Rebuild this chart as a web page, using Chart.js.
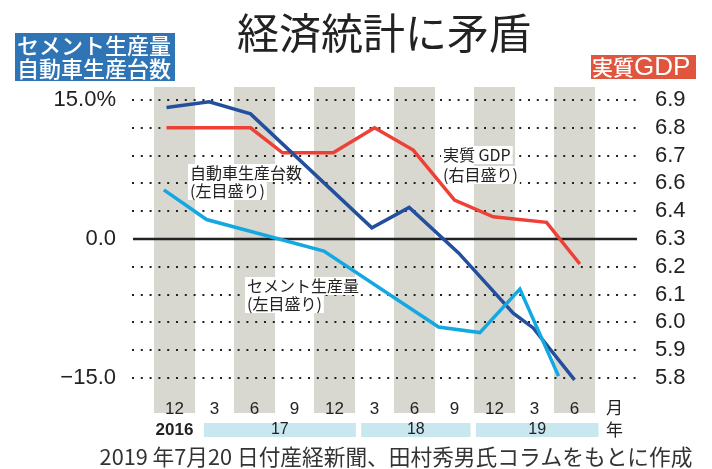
<!DOCTYPE html>
<html lang="ja">
<head>
<meta charset="utf-8">
<title>経済統計に矛盾</title>
<script src="https://cdn.jsdelivr.net/npm/chart.js@4/dist/chart.umd.min.js"></script>
<style>
  body { margin: 0; background: #fff; }
</style>
</head>
<body>
<canvas id="myChart" width="712" height="469"></canvas>
<script>
// x軸は 2016年12月 = 0 とした月数
const monthTicks = [0, 3, 6, 9, 12, 15, 18, 21, 24, 27, 30, 33];
const monthLabels = ['12', '3', '6', '9', '12', '3', '6', '9', '12', '3', '6', '月'];
const yearLabels = ['17', '18', '19'];

const leftTicks = [15, 0, -15];
const leftTickLabels = ['15.0%', '0.0', '−15.0'];
const gdpTicks = [5.8, 5.9, 6.0, 6.1, 6.2, 6.3, 6.4, 6.6, 6.7, 6.8, 6.9];

// 自動車生産台数（前年比%、左目盛り）
const autoMonths = [-0.6, 2.6, 5.7, 14.8, 17.6, 21.3, 25.4, 26.9, 30.0];
const autoValues = [14.2, 14.8, 13.5, 1.2, 3.4, -1.5, -8.0, -9.6, -15.2];

// セメント生産量（前年比%、左目盛り）
const cementMonths = [-0.8, 2.4, 11.2, 19.8, 22.9, 25.9, 28.8];
const cementValues = [5.3, 2.1, -1.3, -9.5, -10.1, -5.4, -14.8];

// 実質GDP（%、右目盛り）
const gdpMonths = [-0.6, 5.7, 8.1, 11.9, 15.0, 17.9, 21.0, 23.9, 27.9, 30.4];
const gdpValues = [6.8, 6.8, 6.71, 6.71, 6.8, 6.72, 6.48, 6.38, 6.36, 6.21];

const FONT_JP = '"Noto Sans CJK JP", sans-serif';
const FONT_NUM = '"Liberation Sans", "Noto Sans CJK JP", sans-serif';

// 右目盛りは 6.5 が抜けているので 6.4〜6.6 を1目盛り分に詰める
class GdpScale extends Chart.LinearScale {
  static id = 'gdpLinear';
  static defaults = {};
  getPixelForValue(v) {
    let u = v;
    if (v >= 6.6) u = v - 0.1;
    else if (v > 6.4) u = 6.4 + (v - 6.4) / 2;
    return super.getPixelForValue(u);
  }
}
Chart.register(GdpScale);

function toPoints(xs, ys) {
  return xs.map((m, i) => ({ x: m, y: ys[i] }));
}

function tag(ctx, lines, x, y0, gap) {
  ctx.font = '16px ' + FONT_JP;
  ctx.textAlign = 'left';
  ctx.textBaseline = 'middle';
  lines.forEach((t, i) => {
    const y = y0 + i * gap;
    const w = ctx.measureText(t).width;
    ctx.fillStyle = '#fff';
    ctx.fillRect(x - 2, y - 9, w + 4, 18);
    ctx.fillStyle = '#222';
    ctx.fillText(t, x, y);
  });
}

const decor = {
  id: 'decor',
  beforeDraw(chart) {
    const ctx = chart.ctx;
    const x = chart.scales.x;
    ctx.save();
    // 灰色の帯（12月・6月）
    ctx.fillStyle = '#d8d8d0';
    for (let m = 0; m <= 30; m += 6) {
      const l = x.getPixelForValue(m - 1.54);
      const r = x.getPixelForValue(m + 1.54);
      ctx.fillRect(l, 87, r - l, 326);
    }
    // 年の行
    const spans = [[2.2, 13.6], [14, 22.2], [22.6, 31.8]];
    ctx.textAlign = 'center';
    ctx.textBaseline = 'middle';
    spans.forEach((s, i) => {
      const l = x.getPixelForValue(s[0]);
      const r = x.getPixelForValue(s[1]);
      ctx.fillStyle = '#c9e7ef';
      ctx.fillRect(l, 423, r - l, 14);
      ctx.fillStyle = '#222';
      ctx.font = '16px ' + FONT_NUM;
      ctx.fillText(yearLabels[i], (l + r) / 2, 430);
    });
    ctx.font = 'bold 17px ' + FONT_NUM;
    ctx.fillText('2016', x.getPixelForValue(0), 430);
    ctx.font = '17px ' + FONT_JP;
    ctx.fillText('年', x.getPixelForValue(33), 430);
    ctx.restore();
  },
  beforeDatasetsDraw(chart) {
    const ctx = chart.ctx;
    const area = chart.chartArea;
    const y0 = chart.scales.y.getPixelForValue(0);
    ctx.save();
    ctx.strokeStyle = '#222';
    ctx.lineWidth = 2.5;
    ctx.beginPath();
    ctx.moveTo(area.left + 1, y0);
    ctx.lineTo(area.right - 1, y0);
    ctx.stroke();
    tag(ctx, ['自動車生産台数', '(左目盛り)'], 190, 173, 18);
    tag(ctx, ['実質 GDP', '(右目盛り)'], 443, 155, 20);
    tag(ctx, ['セメント生産量', '(左目盛り)'], 247, 286, 18);
    ctx.restore();
  },
  afterDraw(chart) {
    const ctx = chart.ctx;
    ctx.save();
    ctx.textBaseline = 'middle';
    // タイトル
    ctx.fillStyle = '#222';
    ctx.textAlign = 'center';
    ctx.font = '42px ' + FONT_JP;
    ctx.fillText('経済統計に矛盾', 384, 33);
    // 左上の系列名
    ctx.fillStyle = '#2f74b5';
    ctx.fillRect(15, 33, 160, 48);
    ctx.fillStyle = '#fff';
    ctx.textAlign = 'left';
    ctx.font = '500 22px ' + FONT_JP;
    ctx.fillText('セメント生産量', 17, 45.5);
    ctx.fillText('自動車生産台数', 17, 68.5);
    // 右上
    ctx.fillStyle = '#e0553d';
    ctx.fillRect(591, 55, 105, 24);
    ctx.fillStyle = '#fff';
    ctx.font = '500 21px ' + FONT_JP;
    ctx.fillText('実質', 592, 67);
    const w = ctx.measureText('実質').width;
    ctx.font = '26px ' + FONT_NUM;
    ctx.fillText('GDP', 592 + w, 68);
    // 出典
    ctx.fillStyle = '#333';
    ctx.textAlign = 'center';
    ctx.font = '21.7px ' + FONT_JP;
    ctx.fillText('2019 年7月20 日付産経新聞、田村秀男氏コラムをもとに作成', 396, 457);
    ctx.restore();
  }
};

new Chart(document.getElementById('myChart'), {
  type: 'line',
  data: {
    datasets: [
      {
        label: 'セメント生産量',
        data: toPoints(cementMonths, cementValues),
        borderColor: '#14a8e3',
        yAxisID: 'y'
      },
      {
        label: '自動車生産台数',
        data: toPoints(autoMonths, autoValues),
        borderColor: '#234f9e',
        yAxisID: 'y'
      },
      {
        label: '実質GDP',
        data: toPoints(gdpMonths, gdpValues),
        borderColor: '#ee4036',
        yAxisID: 'gdp'
      }
    ]
  },
  options: {
    responsive: false,
    animation: false,
    layout: { padding: { top: 100, left: 0, right: 0, bottom: 0 } },
    plugins: {
      legend: { display: false },
      tooltip: { enabled: false }
    },
    elements: {
      point: { radius: 0 },
      line: { tension: 0, borderWidth: 3.5, borderJoinStyle: 'miter' }
    },
    datasets: { line: { clip: false } },
    scales: {
      x: {
        type: 'linear',
        min: -3.19,
        max: 34.76,
        grid: { display: false },
        border: { display: false },
        afterBuildTicks: s => { s.ticks = monthTicks.map(v => ({ value: v })); },
        afterFit: s => { s.height = 91; },
        ticks: {
          autoSkip: false,
          maxRotation: 0,
          padding: 13,
          color: '#222',
          font: { size: 17, family: FONT_NUM },
          callback: (v, i) => monthLabels[i]
        }
      },
      y: {
        position: 'left',
        min: -15,
        max: 15,
        afterFit: s => { s.width = 132; },
        grid: {
          color: c => Math.abs(c.tick.value) < 1e-6 ? 'rgba(0,0,0,0)' : '#222',
          lineWidth: 2,
          drawTicks: false
        },
        border: { display: false, dash: [2, 6.8] },
        ticks: {
          stepSize: 3,
          autoSkip: false,
          padding: 16,
          color: '#222',
          font: { size: 22, family: FONT_NUM },
          callback: v => {
            const i = leftTicks.findIndex(t => Math.abs(t - v) < 1e-6);
            return i < 0 ? '' : leftTickLabels[i];
          }
        }
      },
      gdp: {
        type: 'gdpLinear',
        position: 'right',
        min: 5.8,
        max: 6.8,
        afterBuildTicks: s => { s.ticks = gdpTicks.map(v => ({ value: v })); },
        afterFit: s => { s.width = 74; },
        grid: { display: false },
        border: { display: false },
        ticks: {
          autoSkip: false,
          padding: 9,
          color: '#222',
          font: { size: 22, family: FONT_NUM },
          callback: v => Number(v).toFixed(1)
        }
      }
    }
  },
  plugins: [decor]
});
</script>
</body>
</html>
